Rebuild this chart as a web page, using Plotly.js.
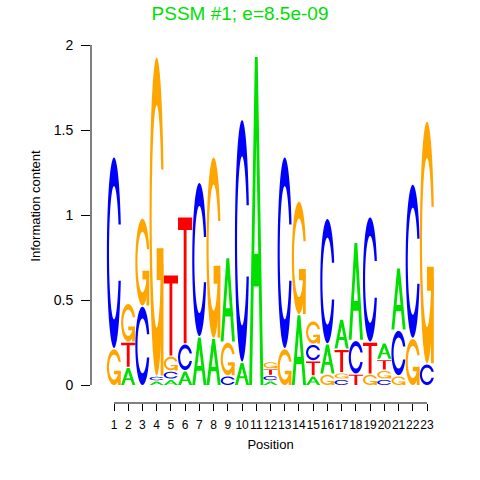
<!DOCTYPE html>
<html><head><meta charset="utf-8">
<script src="https://cdn.plot.ly/plotly-3.0.1.min.js"></script>
<style>html,body{margin:0;padding:0;background:#fff}#chart{width:480px;height:480px}</style>
</head><body><div id="chart"></div>
<script>
// ---- data (information content of each letter, per position) ----
const positions = [1,2,3,4,5,6,7,8,9,10,11,12,13,14,15,16,17,18,19,20,21,22,23];
const tickLabels = positions.map(String);
const letters = ['A','C','G','T'];
const heightA = [0, 0.10, 0, 0.02, 0.03, 0.08, 0.28, 0.27, 0.49, 0.13, 1.93, 0.02, 0, 0.41, 0.05, 0.17, 0.17, 0.57, 0, 0.09, 0.36, 0, 0];
const heightC = [1.12, 0, 0.46, 0.02, 0.04, 0.15, 0.90, 0, 0.05, 1.42, 0, 0.025, 1.12, 0, 0.09, 0.73, 0.03, 0.19, 0.73, 0.03, 0.26, 0.90, 0.12];
const heightG = [0.21, 0.22, 0.51, 1.87, 0.08, 0, 0, 1.06, 0.19, 0, 0, 0.035, 0.21, 0.66, 0.13, 0.06, 0.03, 0, 0.06, 0.045, 0.05, 0.27, 1.42];
const heightT = [0, 0.14, 0, 0, 0.47, 0.74, 0, 0, 0, 0, 0, 0.03, 0, 0, 0.08, 0, 0.13, 0.06, 0.18, 0.055, 0, 0, 0];
const letterColors = {A:'#00E000', C:'#0000FF', G:'#FFA500', T:'#FF0000'};
const titleText = 'PSSM #1; e=8.5e-09';
const xTitle = 'Position';
const yTitle = 'Information content';
const yTicks = [0, 0.5, 1, 1.5, 2];
const yTickLabels = ['0', '0.5', '1', '1.5', '2'];

// ---- glyph outlines in a unit box (seqLogo style) ----
function linspace(a, b, n){ const r=[]; for(let i=0;i<n;i++) r.push(a+(b-a)*i/(n-1)); return r; }
function ringSubpath(){
  const n = 50;
  const a1 = linspace(0.3+Math.PI/2, Math.PI, n), a2 = linspace(Math.PI, 1.5*Math.PI, n);
  const xl = a1.map(a=>0.5+0.5*Math.sin(a)).concat(a2.map(a=>0.5+0.5*Math.sin(a)));
  const yl1 = a1.map(a=>0.5+0.5*Math.cos(a));
  const yl = yl1.concat(a2.map(a=>0.5+0.5*Math.cos(a)));
  const xo = xl.concat(xl.slice().reverse());
  const yo = yl.concat(yl.slice().reverse().map(v=>1-v));
  const maxY = Math.max(...yl1);
  let xi1 = [], yi1 = [];
  a1.forEach(a=>{ const y=0.5+0.35*Math.cos(a); if (y<=maxY){ xi1.push(0.5+0.35*Math.sin(a)); yi1.push(y);} });
  yi1[0] = maxY;
  const xi = xi1.concat(a2.map(a=>0.5+0.35*Math.sin(a)));
  const yi = yi1.concat(a2.map(a=>0.5+0.35*Math.cos(a)));
  const x1 = xi.concat(xi.slice().reverse());
  const y1 = yi.concat(yi.slice().reverse().map(v=>1-v));
  const xs = xo.concat(x1.slice().reverse());
  const ys = yo.concat(y1.slice().reverse());
  return {pts: xs.map((x,i)=>[x, ys[i]]), r1: Math.max(...xl)};
}
function glyph(letter){
  if (letter==='A'){
    return [{sub:[[[0,0],[0.4,1],[0.6,1],[1,0],[0.8,0],[0.68,0.3],[0.32,0.3],[0.2,0]],
                  [[0.36,0.4],[0.5,0.75],[0.64,0.4]]], evenodd:true}];
  }
  if (letter==='T'){
    return [{sub:[[[0,1],[1,1],[1,0.9],[0.6,0.9],[0.6,0],[0.4,0],[0.4,0.9],[0,0.9]]]}];
  }
  const ring = ringSubpath();
  if (letter==='C') return [{sub:[ring.pts]}];
  const r1 = ring.r1, h1 = 0.4;
  return [{sub:[ring.pts]}, {sub:[[[r1,h1],[0.5,h1],[0.5,h1-0.1],[r1-0.2,h1-0.1],[r1-0.2,0],[r1,0]]]}];
}
function pathOf(subs, x0, y0, w, h){
  return subs.map(sp => 'M' + sp.map(p => (x0+p[0]*w).toFixed(4)+','+(y0+p[1]*h).toFixed(5)).join('L') + 'Z').join(' ');
}

const heights = {A:heightA, C:heightC, G:heightG, T:heightT};
const gap = 0.008;
const shapes = [];
positions.forEach((pos, j) => {
  const col = letters.map(l => ({l, h: heights[l][j]})).filter(d => d.h > 0).sort((a,b)=>a.h-b.h);
  let base = 0;
  col.forEach(d => {
    glyph(d.l).forEach(part => {
      shapes.push({type:'path', xref:'x', yref:'y', layer:'above',
        path: pathOf(part.sub, pos-0.5, base, 1, d.h),
        fillcolor: letterColors[d.l], fillrule: part.evenodd ? 'evenodd' : 'nonzero',
        line:{width:0}});
    });
    base += d.h + gap;
  });
});
// axis lines spanning only the tick range (R style)
shapes.push({type:'line', xref:'paper', yref:'y', x0:0, x1:0, y0:yTicks[0], y1:yTicks[yTicks.length-1], line:{color:'#000', width:1}});
shapes.push({type:'line', xref:'x', yref:'paper', x0:positions[0], x1:positions[positions.length-1], y0:0, y1:0, line:{color:'#000', width:1}});

// ---- layout geometry ----
const W = 480, H = 480, mL = 91, mR = 30, mT = 9, mB = 77;
const px1 = 114, px23 = 427, py0 = 385, pxPerBit = 170;
const sp = (px23-px1)/(positions.length-1);
const xRange = [1 - (px1-mL)/sp, 1 + (W-mR-px1)/sp];
const yRange = [-(H-mB-py0)/pxPerBit, (py0-mT)/pxPerBit];
const font = 'Liberation Sans, Arial, Helvetica, sans-serif';

const layout = {
  width: W, height: H, margin:{l:mL, r:mR, t:mT, b:mB},
  paper_bgcolor:'#fff', plot_bgcolor:'#fff', showlegend:false,
  font:{family:font, size:13, color:'#000'},
  title:{text:titleText, font:{family:font, size:19, color:'#00E000'}, x:0.5, xref:'container', y:0.972, yref:'container', yanchor:'middle'},
  xaxis:{range:xRange, showgrid:false, zeroline:false, showline:false, ticks:'outside', ticklen:7, tickcolor:'#000', tickwidth:1,
         tickmode:'array', tickvals:positions, ticktext:tickLabels, tickangle:0, tickfont:{size:12}, ticklabelstandoff:4,
         title:{text:xTitle, font:{size:13}, standoff:8}, fixedrange:true},
  yaxis:{range:yRange, showgrid:false, zeroline:false, showline:false, ticks:'outside', ticklen:9, tickcolor:'#000', tickwidth:1,
         tickmode:'array', tickvals:yTicks, ticktext:yTickLabels, tickfont:{size:14}, ticklabelstandoff:5,
         title:{text:yTitle, font:{size:13}, standoff:10}, fixedrange:true},
  shapes: shapes
};
Plotly.newPlot('chart', [{x:[positions[0]], y:[0], type:'scatter', mode:'markers', marker:{opacity:0}, hoverinfo:'skip'}], layout, {staticPlot:true, displayModeBar:false});
</script>
</body></html>
